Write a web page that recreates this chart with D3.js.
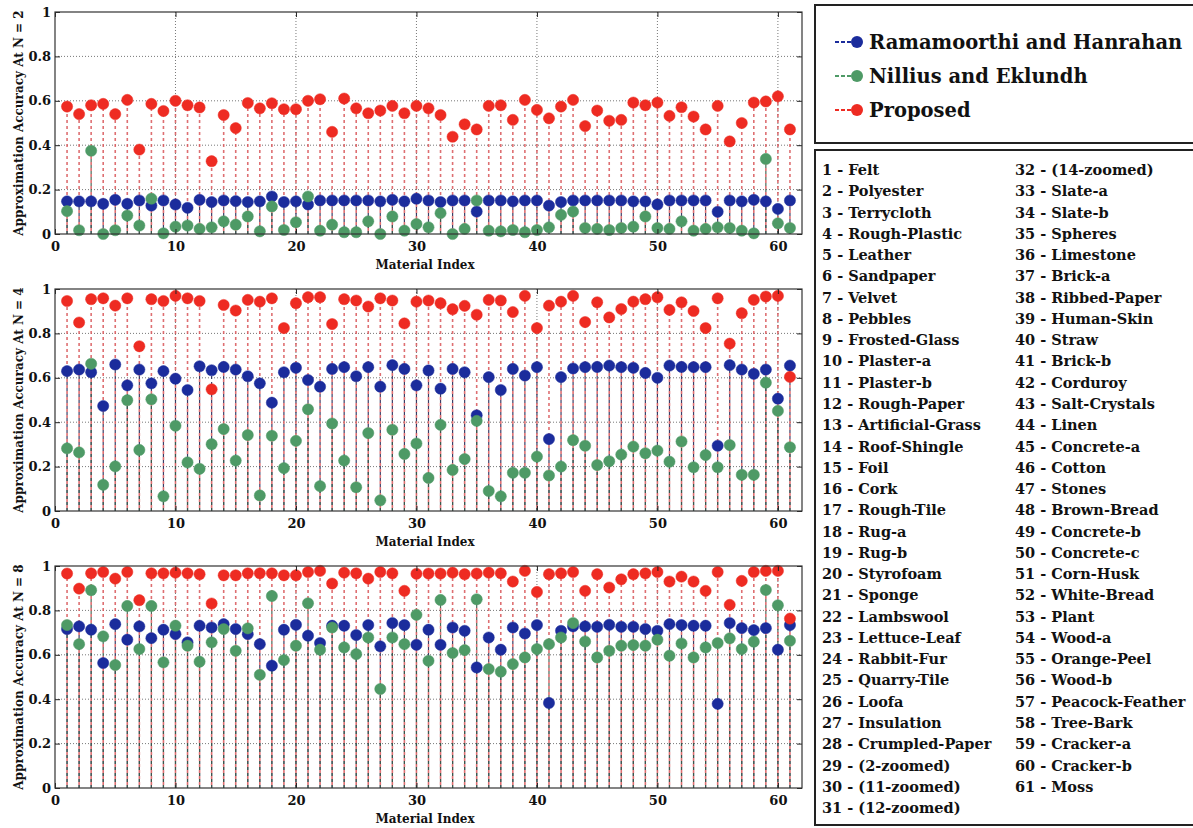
<!DOCTYPE html>
<html><head><meta charset="utf-8">
<script src="https://cdn.jsdelivr.net/npm/d3@7"></script>
<style>
body{margin:0;background:#fff;}
svg{display:block;}
text{font-family:"DejaVu Serif","Liberation Serif",serif;font-weight:bold;fill:#111;}
</style></head>
<body><svg id="chart" width="1193" height="828"></svg>
<script>
const seriesNames = ["Ramamoorthi and Hanrahan", "Nillius and Eklundh", "Proposed"];
const seriesColors = ["#1b2c9c", "#4e9a66", "#ee2b22"];
const panelLabels = ["Approximation Accuracy At N = 2", "Approximation Accuracy At N = 4", "Approximation Accuracy At N = 8"];
const xTicks = [0, 10, 20, 30, 40, 50, 60];
const yTicks = [0, 0.2, 0.4, 0.6, 0.8, 1];
const materials = ["Felt","Polyester","Terrycloth","Rough-Plastic","Leather","Sandpaper","Velvet","Pebbles","Frosted-Glass","Plaster-a","Plaster-b","Rough-Paper","Artificial-Grass","Roof-Shingle","Foil","Cork","Rough-Tile","Rug-a","Rug-b","Styrofoam","Sponge","Lambswool","Lettuce-Leaf","Rabbit-Fur","Quarry-Tile","Loofa","Insulation","Crumpled-Paper","(2-zoomed)","(11-zoomed)","(12-zoomed)","(14-zoomed)","Slate-a","Slate-b","Spheres","Limestone","Brick-a","Ribbed-Paper","Human-Skin","Straw","Brick-b","Corduroy","Salt-Crystals","Linen","Concrete-a","Cotton","Stones","Brown-Bread","Concrete-b","Concrete-c","Corn-Husk","White-Bread","Plant","Wood-a","Orange-Peel","Wood-b","Peacock-Feather","Tree-Bark","Cracker-a","Cracker-b","Moss"];

// N = 2
const ramamoorthiN2 = [0.147,0.147,0.147,0.136,0.154,0.136,0.151,0.128,0.151,0.133,0.118,0.154,0.144,0.151,0.148,0.144,0.147,0.169,0.144,0.147,0.133,0.151,0.151,0.151,0.151,0.151,0.147,0.154,0.147,0.159,0.151,0.144,0.151,0.151,0.101,0.151,0.151,0.147,0.151,0.151,0.128,0.144,0.151,0.151,0.151,0.151,0.151,0.147,0.147,0.133,0.151,0.151,0.151,0.151,0.100,0.151,0.147,0.154,0.147,0.113,0.151];
const nilliusN2 = [0.103,0.017,0.375,0.0,0.017,0.083,0.038,0.159,0.003,0.033,0.038,0.023,0.030,0.057,0.042,0.079,0.012,0.124,0.018,0.053,0.169,0.015,0.042,0.008,0.008,0.057,0.0,0.079,0.015,0.045,0.030,0.094,0.0,0.023,0.151,0.015,0.012,0.018,0.008,0.018,0.030,0.086,0.101,0.027,0.023,0.018,0.027,0.033,0.079,0.027,0.023,0.057,0.015,0.023,0.030,0.027,0.015,0.003,0.338,0.048,0.027];
const proposedN2 = [0.574,0.540,0.580,0.586,0.540,0.604,0.380,0.586,0.554,0.600,0.580,0.570,0.328,0.536,0.477,0.590,0.566,0.589,0.562,0.562,0.600,0.607,0.460,0.610,0.566,0.544,0.556,0.577,0.544,0.577,0.566,0.536,0.438,0.494,0.471,0.577,0.580,0.514,0.604,0.559,0.521,0.574,0.604,0.486,0.556,0.510,0.514,0.592,0.580,0.592,0.532,0.571,0.529,0.471,0.577,0.417,0.500,0.592,0.597,0.620,0.471];
// N = 4
const ramamoorthiN4 = [0.630,0.637,0.625,0.473,0.660,0.566,0.637,0.575,0.630,0.596,0.545,0.652,0.634,0.649,0.637,0.607,0.575,0.488,0.625,0.645,0.590,0.560,0.640,0.648,0.607,0.648,0.560,0.657,0.640,0.566,0.633,0.551,0.640,0.625,0.431,0.603,0.545,0.640,0.610,0.648,0.324,0.603,0.642,0.648,0.649,0.655,0.648,0.645,0.622,0.600,0.655,0.649,0.648,0.648,0.294,0.657,0.637,0.618,0.637,0.506,0.655];
const nilliusN4 = [0.282,0.264,0.663,0.118,0.201,0.499,0.275,0.503,0.066,0.384,0.219,0.190,0.301,0.369,0.227,0.342,0.070,0.339,0.193,0.316,0.458,0.112,0.394,0.227,0.107,0.351,0.048,0.366,0.257,0.304,0.149,0.388,0.185,0.234,0.406,0.090,0.066,0.172,0.172,0.245,0.160,0.200,0.319,0.294,0.207,0.224,0.254,0.290,0.260,0.272,0.222,0.313,0.197,0.252,0.197,0.297,0.163,0.163,0.578,0.451,0.287];
const proposedN4 = [0.946,0.849,0.954,0.958,0.925,0.958,0.742,0.954,0.946,0.969,0.958,0.946,0.548,0.928,0.903,0.951,0.943,0.958,0.824,0.936,0.963,0.963,0.842,0.954,0.948,0.921,0.958,0.948,0.845,0.943,0.948,0.936,0.909,0.924,0.884,0.951,0.948,0.896,0.969,0.824,0.925,0.943,0.969,0.851,0.940,0.872,0.910,0.943,0.954,0.963,0.906,0.940,0.901,0.824,0.958,0.754,0.891,0.951,0.966,0.969,0.604];
// N = 8
const ramamoorthiN8 = [0.716,0.728,0.713,0.563,0.738,0.668,0.728,0.675,0.713,0.693,0.656,0.731,0.723,0.738,0.716,0.693,0.648,0.551,0.713,0.735,0.686,0.653,0.731,0.731,0.689,0.734,0.638,0.743,0.734,0.645,0.713,0.645,0.723,0.708,0.543,0.678,0.623,0.723,0.696,0.734,0.383,0.708,0.728,0.728,0.726,0.735,0.726,0.726,0.716,0.708,0.738,0.734,0.731,0.731,0.379,0.743,0.720,0.711,0.720,0.623,0.734];
const nilliusN8 = [0.734,0.648,0.891,0.683,0.554,0.820,0.626,0.820,0.566,0.731,0.641,0.569,0.656,0.716,0.618,0.719,0.510,0.865,0.576,0.641,0.832,0.623,0.723,0.633,0.603,0.678,0.446,0.678,0.648,0.780,0.573,0.847,0.608,0.621,0.850,0.536,0.524,0.558,0.588,0.626,0.648,0.678,0.743,0.660,0.588,0.618,0.641,0.644,0.641,0.668,0.596,0.651,0.588,0.633,0.653,0.674,0.626,0.659,0.892,0.823,0.663];
const proposedN8 = [0.966,0.898,0.967,0.973,0.943,0.973,0.846,0.967,0.967,0.970,0.967,0.963,0.831,0.958,0.958,0.967,0.967,0.967,0.958,0.958,0.973,0.978,0.921,0.970,0.967,0.943,0.973,0.967,0.888,0.965,0.966,0.966,0.970,0.963,0.966,0.970,0.967,0.930,0.978,0.883,0.963,0.967,0.973,0.888,0.963,0.903,0.940,0.963,0.967,0.973,0.930,0.952,0.930,0.888,0.973,0.825,0.933,0.973,0.978,0.978,0.763];

const panelsData = [
  [ramamoorthiN2, nilliusN2, proposedN2],
  [ramamoorthiN4, nilliusN4, proposedN4],
  [ramamoorthiN8, nilliusN8, proposedN8]
];

const svg = d3.select("#chart");
const left = 55, right = 802;
const panelTops = [12, 289, 566];
const panelH = 222;
const x = d3.scaleLinear().domain([0, 62]).range([left, right]);
const stemColors = ["#2a2a55", "#3c5a48", "#d9575a"];
const stemDash = ["3,3", "3,3", "3,3"];
const stemOffset = [0, 0, 3];

panelsData.forEach((series, p) => {
  const top = panelTops[p], bottom = top + panelH;
  const y = d3.scaleLinear().domain([0, 1]).range([bottom, top]);
  const g = svg.append("g");
  g.append("rect").attr("x", left).attr("y", top).attr("width", right - left).attr("height", panelH).attr("fill", "#fff");
  g.selectAll(".gx").data(xTicks.filter(t => t > 0)).join("line")
    .attr("x1", d => x(d)).attr("x2", d => x(d)).attr("y1", top).attr("y2", bottom)
    .attr("stroke", "#555").attr("stroke-width", 0.8).attr("stroke-dasharray", "1,2");
  g.selectAll(".gy").data(yTicks.filter(t => t > 0 && t < 1)).join("line")
    .attr("x1", left).attr("x2", right).attr("y1", d => y(d)).attr("y2", d => y(d))
    .attr("stroke", "#555").attr("stroke-width", 0.8).attr("stroke-dasharray", "1,2");
  series.forEach((vals, s) => {
    g.append("g").selectAll("line").data(vals).join("line")
      .attr("x1", (d, i) => x(i + 1)).attr("x2", (d, i) => x(i + 1))
      .attr("y1", y(0)).attr("y2", d => y(d))
      .attr("stroke", stemColors[s]).attr("stroke-width", s === 2 ? 1.6 : 1.2)
      .attr("stroke-dasharray", stemDash[s]).attr("stroke-dashoffset", stemOffset[s])
      .attr("opacity", s === 2 ? 0.85 : 0.9);
  });
  series.forEach((vals, s) => {
    g.append("g").selectAll("circle").data(vals).join("circle")
      .attr("cx", (d, i) => x(i + 1)).attr("cy", d => y(d)).attr("r", 5.6)
      .attr("fill", seriesColors[s]).attr("stroke", seriesColors[s]).attr("stroke-opacity", 0.5).attr("stroke-width", 1);
  });
  const xa = g.append("g").attr("transform", `translate(0,${bottom})`)
    .call(d3.axisBottom(x).tickValues(xTicks).tickSize(-5).tickPadding(8).tickFormat(d3.format("d")));
  const ya = g.append("g").attr("transform", `translate(${left},0)`)
    .call(d3.axisLeft(y).tickValues(yTicks).tickSize(-5).tickPadding(4).tickFormat(d => d === 0 || d === 1 ? d3.format("d")(d) : d3.format(".1f")(d)));
  [xa, ya].forEach(a => {
    a.select(".domain").remove();
    a.selectAll("line").attr("stroke", "#222");
    a.selectAll("text").style("font-size", "13px").style("font-family", "DejaVu Serif, serif").style("font-weight", "bold").attr("fill", "#111");
  });
  g.append("g").attr("transform", `translate(0,${top})`)
    .call(d3.axisTop(x).tickValues(xTicks).tickSize(-5).tickFormat(""))
    .call(a => { a.select(".domain").remove(); a.selectAll("line").attr("stroke", "#222"); });
  g.append("g").attr("transform", `translate(${right},0)`)
    .call(d3.axisRight(y).tickValues(yTicks).tickSize(-5).tickFormat(""))
    .call(a => { a.select(".domain").remove(); a.selectAll("line").attr("stroke", "#222"); });
  g.append("rect").attr("x", left).attr("y", top).attr("width", right - left).attr("height", panelH)
    .attr("fill", "none").attr("stroke", "#333").attr("stroke-width", 1.2);
  g.append("text").attr("x", 425).attr("y", bottom + 35).attr("text-anchor", "middle")
    .style("font-size", "12px").text("Material Index");
  g.append("text").attr("transform", `translate(23,${(top + bottom) / 2}) rotate(-90)`).attr("text-anchor", "middle")
    .style("font-size", "12px").text(panelLabels[p]);
});

const lg = svg.append("g");
lg.append("rect").attr("x", 815).attr("y", 5).attr("width", 390).attr("height", 138)
  .attr("fill", "#fff").attr("stroke", "#222").attr("stroke-width", 2);
seriesNames.forEach((name, i) => {
  const yy = 42 + i * 34;
  lg.append("line").attr("x1", 835).attr("x2", 856).attr("y1", yy).attr("y2", yy)
    .attr("stroke", seriesColors[i]).attr("stroke-width", 2).attr("stroke-dasharray", "4,2");
  lg.append("circle").attr("cx", 857).attr("cy", yy).attr("r", 6).attr("fill", seriesColors[i]);
  lg.append("text").attr("x", 869).attr("y", yy + 7).style("font-size", "19.5px").text(name);
});

const lg2 = svg.append("g");
lg2.append("rect").attr("x", 815).attr("y", 150).attr("width", 390).attr("height", 675)
  .attr("fill", "#fff").attr("stroke", "#222").attr("stroke-width", 2);
lg2.selectAll("text").data(materials).join("text")
  .attr("x", (d, i) => i < 31 ? 822 : 1015)
  .attr("y", (d, i) => 175 + (i < 31 ? i : i - 31) * 21.27)
  .style("font-size", "14.5px")
  .text((d, i) => `${i + 1} - ${d}`);
</script></body></html>
